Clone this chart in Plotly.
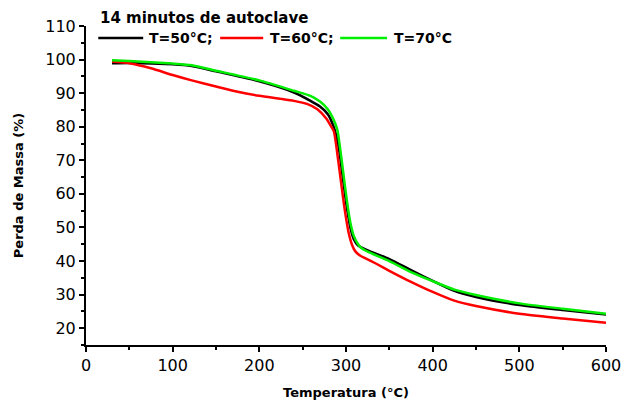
import plotly.graph_objects as go

# Temperature (°C) and mass (%)
t_50 = [30, 50, 100, 122, 150, 200, 240, 259, 270, 279, 285, 290, 293, 297, 301, 305, 309, 314, 318, 325, 350, 375, 400, 425, 450, 500, 550, 600]
m_50 = [98.9, 99.0, 98.6, 98.1, 96.5, 93.5, 90.2, 87.7, 86.0, 83.7, 80.5, 76.0, 71.5, 63.5, 56.0, 50.0, 46.5, 44.6, 44.0, 43.2, 40.6, 37.3, 34.1, 31.1, 29.3, 26.9, 25.4, 24.1]

t_60 = [30, 50, 75, 100, 122, 150, 175, 200, 225, 240, 255, 267, 277, 283, 286, 291, 295, 299, 303, 307, 311, 317, 322, 335, 350, 375, 400, 425, 450, 500, 550, 600]
m_60 = [99.4, 98.9, 97.4, 95.4, 93.8, 92.0, 90.4, 89.2, 88.3, 87.7, 86.8, 85.2, 82.5, 80.0, 78.6, 70.0, 62.0, 54.5, 48.5, 44.8, 42.8, 41.5, 40.9, 39.2, 37.1, 33.8, 30.8, 28.2, 26.6, 24.3, 22.9, 21.6]

t_70 = [30, 50, 100, 122, 150, 200, 240, 259, 270, 279, 285, 290, 293, 297, 301, 305, 309, 314, 318, 325, 350, 375, 400, 425, 450, 500, 550, 600]
m_70 = [99.8, 99.6, 98.8, 98.3, 96.7, 93.8, 90.7, 89.2, 87.5, 85.2, 82.5, 79.1, 74.0, 66.0, 58.0, 51.5, 47.5, 45.0, 43.8, 42.8, 40.0, 36.7, 34.0, 31.5, 29.9, 27.4, 25.8, 24.3]

series_names = ["T=50°C;", "T=60°C;", "T=70°C"]
series_colors = ["#000000", "#ff0000", "#00ee00"]
legend_title = "14 minutos de autoclave"
x_title = "Temperatura (°C)"
y_title = "Perda de Massa (%)"
x_ticks = [0, 100, 200, 300, 400, 500, 600]
y_ticks = [20, 30, 40, 50, 60, 70, 80, 90, 100, 110]

FONT = "DejaVu Sans, Arial, sans-serif"

fig = go.Figure()
for t, m, name, color in zip([t_50, t_60, t_70], [m_50, m_60, m_70], series_names, series_colors):
    fig.add_trace(go.Scatter(x=t, y=m, mode="lines", name=name, showlegend=False,
                             line=dict(color=color, width=2.5, shape="spline", smoothing=0.6)))

# Hand-made legend (title row + one row of samples), in paper coordinates
fig.add_annotation(text="<b>" + legend_title + "</b>", xref="paper", yref="paper",
                   x=0.0236, y=1.026, xanchor="left", yanchor="middle", showarrow=False,
                   font=dict(family=FONT, size=15, color="black"))
legend_row_y = 0.9624
sample_x = [(0.0236, 0.110, 0.1178), (0.258, 0.3408, 0.3504), (0.4888, 0.579, 0.5887)]
for (x0, x1, xt), name, color in zip(sample_x, series_names, series_colors):
    fig.add_shape(type="line", xref="paper", yref="paper", x0=x0, x1=x1,
                  y0=legend_row_y, y1=legend_row_y, line=dict(color=color, width=2.5))
    fig.add_annotation(text="<b>" + name + "</b>", xref="paper", yref="paper",
                       x=xt, y=legend_row_y, xanchor="left", yanchor="middle", showarrow=False,
                       font=dict(family=FONT, size=14, color="black"))

axis_common = dict(
    showline=True, linecolor="black", linewidth=2, mirror=False,
    ticks="outside", ticklen=5, tickwidth=2, tickcolor="black",
    showgrid=False, zeroline=False, automargin=False,
    tickfont=dict(family=FONT, size=16, color="black"),
)

fig.update_xaxes(range=[0, 600], tickvals=x_ticks, **axis_common,
                 minor=dict(ticks="outside", ticklen=3, tickwidth=2, tickcolor="black", dtick=50, showgrid=False),
                 title=dict(text="<b>" + x_title + "</b>", font=dict(family=FONT, size=13, color="black"), standoff=14))
fig.update_yaxes(range=[15, 110], tickvals=y_ticks, **axis_common,
                 minor=dict(ticks="outside", ticklen=3, tickwidth=2, tickcolor="black", dtick=5, showgrid=False),
                 title=dict(text="<b>" + y_title + "</b>", font=dict(family=FONT, size=13, color="black"), standoff=19))

fig.update_layout(
    width=622, height=403,
    margin=dict(l=86, r=16, t=26, b=58),
    plot_bgcolor="white", paper_bgcolor="white",
    font=dict(family=FONT, color="black"),
    showlegend=False,
)

# remove the page's default body margin and scrollbars so the 622x403 figure fills the window
fig.write_html("out.html", config={"displayModeBar": False},
               post_script="document.body.style.margin='0';document.body.style.overflow='hidden';")
